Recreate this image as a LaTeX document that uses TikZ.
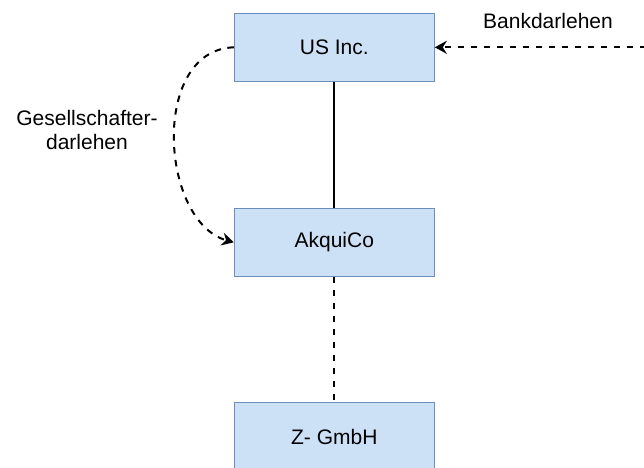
\documentclass[tikz,border=0pt]{standalone}
\usepackage{fontspec}
\setmainfont{Liberation Sans}
\usetikzlibrary{arrows.meta}
\definecolor{boxfill}{HTML}{CDE1F6}
\definecolor{boxline}{HTML}{6C8EBF}
\tikzset{
  entity/.style={draw=boxline, fill=boxfill, line width=1pt, minimum width=200pt,
    minimum height=68pt, inner sep=0pt, font=\fontsize{21}{24}\selectfont},
  label/.style={inner sep=0pt, align=center, font=\fontsize{21}{24}\selectfont},
  link/.style={line width=2pt, draw=black},
  loan/.style={line width=2pt, draw=black, dash pattern=on 6.5pt off 6.5pt,
    -{Stealth[length=12pt, width=13pt, inset=4pt]}}
}
\begin{document}
\begin{tikzpicture}[x=1pt, y=-1pt]
  \clip (0,0) rectangle (644,467);
  \fill[white] (0,0) rectangle (644,467);

  % companies
  \node[entity] (us) at (334.3,47.3) {US Inc.};
  \node[entity] (akq) at (334.3,242.3) {AkquiCo};
  \node[entity] (zg) at (334.3,436.7) {Z- GmbH};

  % ownership lines
  \draw[link] (us.south) -- (akq.north);
  \draw[link, dash pattern=on 6.5pt off 6.5pt] (akq.south) -- (zg.north);

  % external bank loan
  \coordinate (bank) at (646,47.3);
  \draw[loan] (bank) -- (us.east);
  \node[label] (banklbl) at (548,20.5) {Bankdarlehen};

  % shareholder loan
  \draw[loan] (us.west) .. controls (150,50) and (160,222) .. (akq.west);
  \node[label] (gsl) at (87,130) {Gesellschafter-\\darlehen};
\end{tikzpicture}
\end{document}
